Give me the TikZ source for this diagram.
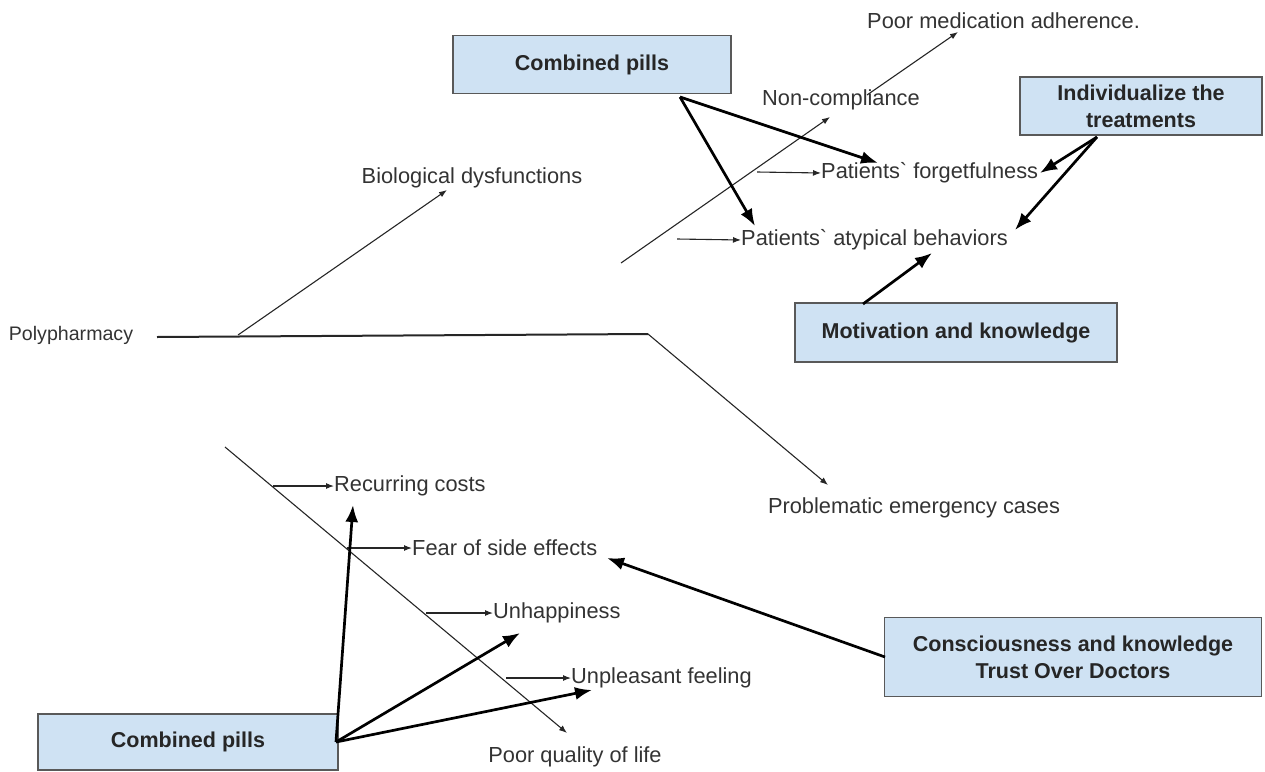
\documentclass[tikz,border=0pt]{standalone}
\usepackage{fontspec}
\setmainfont{Liberation Sans}
\newfontfamily\gravefont{Liberation Sans}[Ligatures=ResetAll]
\newcommand{\gr}{{\gravefont`}}
\usetikzlibrary{arrows.meta}
\definecolor{boxfill}{HTML}{CFE2F3}
\definecolor{boxline}{HTML}{595959}
\definecolor{txt}{HTML}{333333}
\begin{document}
\begin{tikzpicture}[x=1pt,y=-1pt,
  lbl/.style={inner sep=0pt, text=txt, font=\fontsize{21.8}{26}\selectfont},
  box/.style={draw=boxline, fill=boxfill, line width=1.3pt, text=black!85,
    font=\fontsize{21.5}{27}\selectfont\bfseries, align=center, inner sep=0pt},
  thinarr/.style={line width=1.1pt, draw=black!85, -{Latex[length=8pt,width=6pt]}},
  thickarr/.style={line width=2.7pt, -{Latex[length=17pt,width=13pt]}},
  spine/.style={line width=2pt, draw=black!85}]
\useasboundingbox (0,0) rectangle (1265,771);

% boxes
\node[box, minimum width=278pt, minimum height=58pt] (cpt) at (592,64.5) {Combined pills};
\node[box, minimum width=242pt, minimum height=58pt] (ind) at (1141,106) {Individualize the\\treatments};
\node[box, minimum width=322pt, minimum height=59pt] (mot) at (956,332.5) {Motivation and knowledge};
\node[box, minimum width=377pt, minimum height=79pt] (con) at (1073,657) {Consciousness and knowledge\\Trust Over Doctors};
\node[box, minimum width=300pt, minimum height=56pt] (cpb) at (188,742) {Combined pills};

% labels
\node[lbl, font=\fontsize{19.6}{24}\selectfont] (poly) at (71,335) {Polypharmacy};
\node[lbl] (bio) at (472,178) {Biological dysfunctions};
\node[lbl] (prob) at (914,508) {Problematic emergency cases};
\node[lbl, anchor=west] (poor) at (867,21) {Poor medication adherence.};
\node[lbl, anchor=west] (nonc) at (762,100) {Non-compliance};
\node[lbl, anchor=west] (forg) at (821,173) {Patients\gr{} forgetfulness};
\node[lbl, anchor=west] (atyp) at (741,240) {Patients\gr{} atypical behaviors};
\node[lbl, anchor=west] (rec) at (334,486) {Recurring costs};
\node[lbl, anchor=west] (fear) at (412,548) {Fear of side effects};
\node[lbl, anchor=west] (unh) at (493,613) {Unhappiness};
\node[lbl, anchor=west] (unp) at (571,678) {Unpleasant feeling};
\node[lbl] (pql) at (575,757) {Poor quality of life};

% coordinates
\coordinate (s0) at (157,337);
\coordinate (s1) at (648,334);
\coordinate (pe) at (828,485);
\coordinate (b0) at (238,335);
\coordinate (be) at (447,190);
\coordinate (u0) at (621,263);
\coordinate (ue) at (830,117);
\coordinate (u1) at (867,95);
\coordinate (pme) at (958,32);
\coordinate (f0) at (757,172);
\coordinate (a0) at (677,239);
\coordinate (cpo) at (680,97);
\coordinate (fe) at (878,163);
\coordinate (ae) at (755,226);
\coordinate (io) at (1097,137);
\coordinate (ife) at (1040,173);
\coordinate (iae) at (1015,230);
\coordinate (mo) at (863,304);
\coordinate (me) at (932,253);
\coordinate (d0) at (225,447);
\coordinate (de) at (567,733);
\coordinate (r0) at (273,486);
\coordinate (fe0) at (347,548);
\coordinate (h0) at (426,613);
\coordinate (p0) at (506,678);
\coordinate (bo) at (336,742);
\coordinate (bre) at (353,505);
\coordinate (bhe) at (520,633);
\coordinate (bpe) at (592,690);
\coordinate (co) at (885,657);
\coordinate (cfe) at (607,558);

% spine and branches
\draw[spine] (s0) -- (s1);
\draw[thinarr] (s1) -- (pe);
\draw[thinarr] (b0) -- (be);
\draw[thinarr] (u0) -- (ue);
\draw[thinarr] (u1) -- (pme);
\draw[thinarr] (f0) -- (forg.west);
\draw[thinarr] (a0) -- (atyp.west);
\draw[thinarr] (d0) -- (de);
\draw[thinarr] (r0) -- (rec.west);
\draw[thinarr] (fe0) -- (fear.west);
\draw[thinarr] (h0) -- (unh.west);
\draw[thinarr] (p0) -- (unp.west);

% thick arrows
\draw[thickarr] (cpo) -- (fe);
\draw[thickarr] (cpo) -- (ae);
\draw[thickarr] (io) -- (ife);
\draw[thickarr] (io) -- (iae);
\draw[thickarr] (mo) -- (me);
\draw[thickarr] (bo) -- (bre);
\draw[thickarr] (bo) -- (bhe);
\draw[thickarr] (bo) -- (bpe);
\draw[thickarr] (co) -- (cfe);
\end{tikzpicture}
\end{document}
